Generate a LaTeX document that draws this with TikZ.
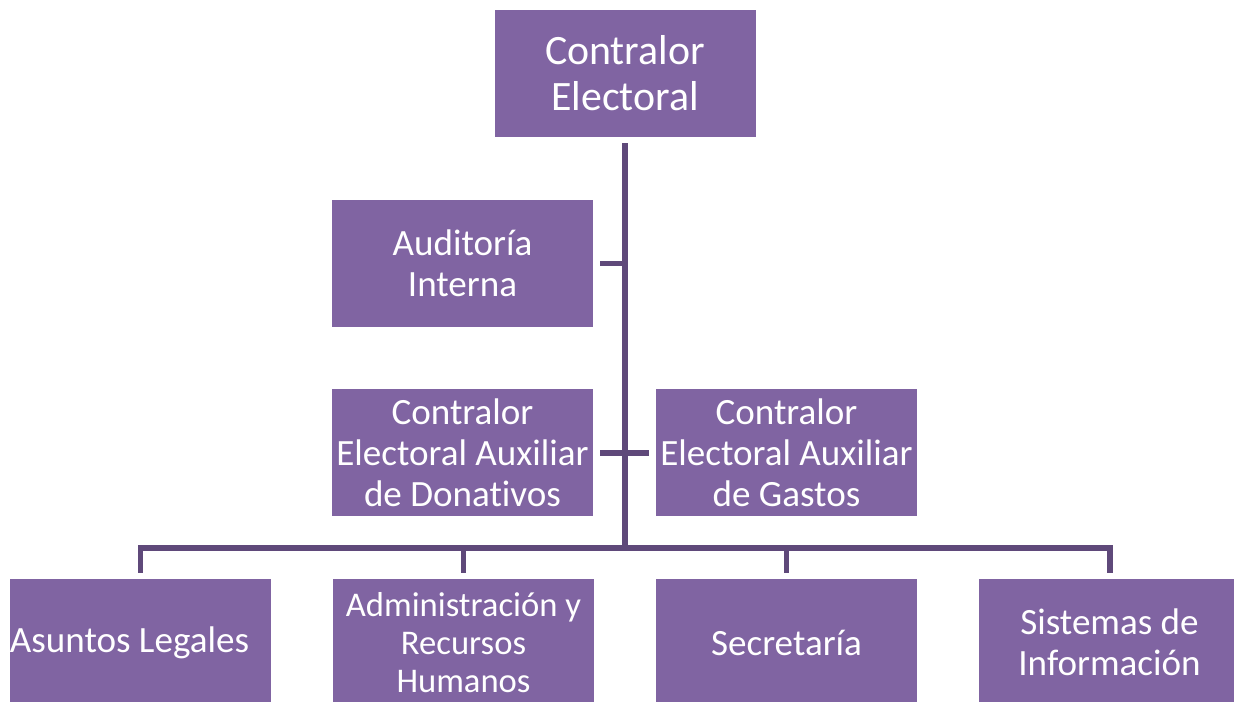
\documentclass[tikz,border=0pt]{standalone}
\usepackage{fontspec}
\setmainfont{Carlito}[Ligatures=NoCommon]
\usetikzlibrary{positioning}
\definecolor{lila}{HTML}{8064A2}
\definecolor{lilaosc}{HTML}{5F497A}
\tikzset{box/.style={fill=lila,text=white,align=center,inner sep=0pt,minimum width=5.22cm,minimum height=2.54cm,font=\fontsize{21.1}{23.3}\selectfont}}
\tikzset{lnk/.style={draw=lilaosc,line width=3.4pt,line join=miter}}

\begin{document}
\begin{tikzpicture}
\useasboundingbox (0,0) rectangle (24.68,-14.04);
\clip (0,0) rectangle (24.68,-14.04);
\begin{scope}[on grid]
\node[box,font=\fontsize{23.8}{26.2}\selectfont] (top) at (12.5,-1.47) {Contralor\\Electoral};
\node[box] (audit) [below left = 3.8 and 3.25 of top] {Auditoría\\Interna};
\node[box] (don) [below = 3.79 of audit] {Contralor\\Electoral Auxiliar\\de Donativos};
\node[box] (gast) [right = 6.48 of don] {Contralor\\Electoral Auxiliar\\de Gastos};

\node[box] (aslg) at (2.81,-12.85) {Asuntos Legales\hspace*{0.44cm}};
\node[box,font=\fontsize{19.7}{21.6}\selectfont] (admin) [right = 6.46 of aslg] {Administración y\\Recursos\\Humanos};
\node[box] (secr) [right = 6.46 of admin] {Secretaría};
\node[box] (sist) [right = 6.46 of secr] {Sistemas de\\Información};
\end{scope}

\coordinate (hub) at (12.5,-10.96);

\draw[lnk,shorten <=0.12cm] (top.south) -- (top.south |- hub);
\draw[lnk,shorten <=0.14cm] (audit.east) -- (audit.east -| top.south);
\draw[lnk,shorten <=0.14cm,shorten >=0.14cm] (don.east) -- (gast.west);
\draw[lnk,shorten <=0.12cm,shorten >=0.12cm] (aslg.north) -- (aslg.north |- hub) -- (sist.north |- hub) -- (sist.north);
\draw[lnk,shorten >=0.12cm] (admin.north |- hub) -- (admin.north);
\draw[lnk,shorten >=0.12cm] (secr.north |- hub) -- (secr.north);
\end{tikzpicture}
\end{document}
